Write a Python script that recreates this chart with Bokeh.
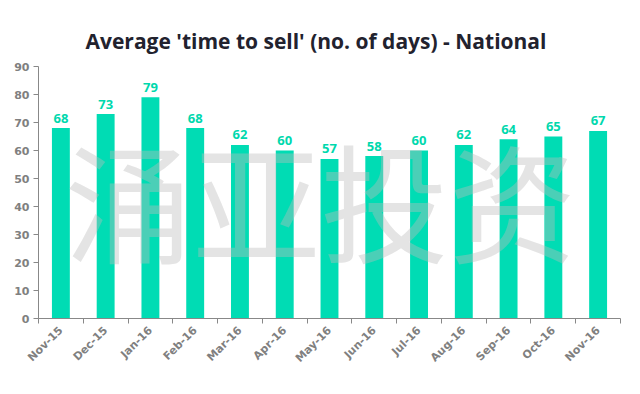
from bokeh.plotting import figure
from bokeh.models import ColumnDataSource, FixedTicker, Range1d, Label
from bokeh.core.properties import value
from bokeh.embed import file_html
from bokeh.resources import INLINE

months = ["Nov-15", "Dec-15", "Jan-16", "Feb-16", "Mar-16", "Apr-16", "May-16",
          "Jun-16", "Jul-16", "Aug-16", "Sep-16", "Oct-16", "Nov-16"]
days = [68, 73, 79, 68, 62, 60, 57, 58, 60, 62, 64, 65, 67]
y_ticks = [0, 10, 20, 30, 40, 50, 60, 70, 80, 90]

centers = [i + 0.5 for i in range(len(months))]
src = ColumnDataSource(dict(x=centers, top=days, lab=[str(v) for v in days]))

p = figure(width=624, height=378, output_backend="svg", toolbar_location=None,
           x_range=Range1d(0, len(months)), y_range=Range1d(0, 90),
           title="Average 'time to sell' (no. of days) - National")
p.min_border_left = 38
p.min_border_right = 4
p.min_border_top = 66
p.min_border_bottom = 60
p.outline_line_color = None
p.xgrid.grid_line_color = None
p.ygrid.grid_line_color = None

p.title.align = "left"
p.title.text_font = "Open Sans"
p.title.text_font_style = "bold"
p.title.text_font_size = "21px"
p.title.text_color = "#22222e"
p.title.offset = 47
p.title.standoff = 23

p.vbar(x="x", top="top", width=0.4, source=src, color="#00dcb4", line_color=None)
p.text(x="x", y="top", text="lab", source=src, text_align="center",
       text_baseline="alphabetic", y_offset=-10, text_font=value("Open Sans"),
       text_font_size="13px", text_font_style="bold", text_color="#00d8ad")

wm = Label(x=6.3, y=43, text="涌亚投资", text_align="center", text_baseline="middle",
           text_font="Noto Sans CJK SC", text_font_size="128px",
           text_color="#bbbbbb", text_alpha=0.4)
p.add_layout(wm)

xa = p.xaxis[0]
xa.ticker = FixedTicker(ticks=centers, minor_ticks=list(range(len(months) + 1)))
xa.major_label_overrides = {c: m for c, m in zip(centers, months)}
xa.major_tick_line_color = None
xa.minor_tick_in = 0
xa.minor_tick_out = 5
xa.minor_tick_line_color = "#888888"
xa.axis_line_color = "#888888"
xa.major_label_orientation = 0.785
xa.major_label_text_font = "DejaVu Sans"
xa.major_label_text_font_style = "bold"
xa.major_label_text_font_size = "11px"
xa.major_label_text_color = "#808080"
xa.major_label_standoff = 4

ya = p.yaxis[0]
ya.ticker = FixedTicker(ticks=y_ticks)
ya.minor_tick_line_color = None
ya.major_tick_in = 0
ya.major_tick_out = 5
ya.major_tick_line_color = "#888888"
ya.axis_line_color = "#888888"
ya.major_label_text_font = "DejaVu Sans"
ya.major_label_text_font_style = "bold"
ya.major_label_text_font_size = "11px"
ya.major_label_text_color = "#808080"
ya.major_label_standoff = 4

open("out.html", "w").write(file_html(p, INLINE))
